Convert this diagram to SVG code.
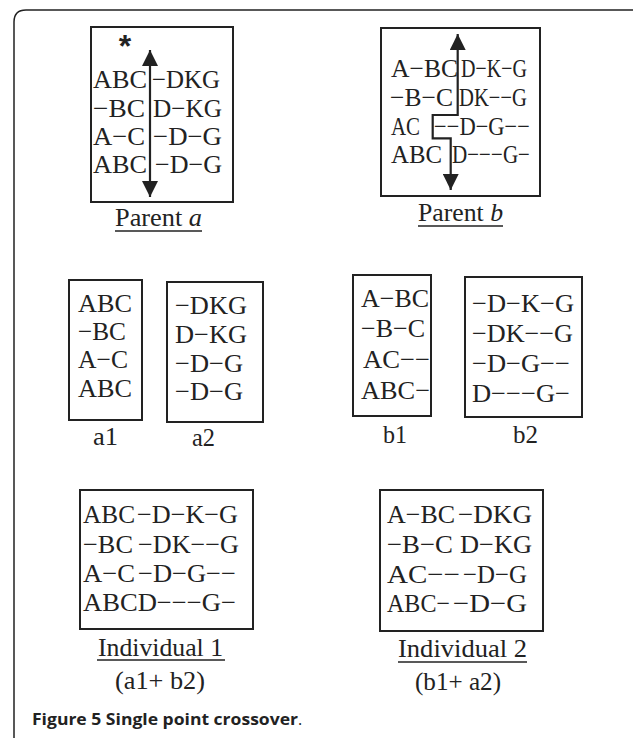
<svg xmlns="http://www.w3.org/2000/svg" width="633" height="738" viewBox="0 0 633 738">
<style>
.box{fill:none;stroke:#222;stroke-width:2}
.t{font-family:"Liberation Serif","Times New Roman",serif;font-size:26px;fill:#222}
.cap{font-family:"Open Sans","Noto Sans",sans-serif;font-size:16px;fill:#222}
.ul{stroke:#222;stroke-width:1.5}
.arr{fill:none;stroke:#222;stroke-width:2.2}
</style>
<defs>
<marker id="ah" markerUnits="userSpaceOnUse" markerWidth="16" markerHeight="16" refX="15" refY="7.5" orient="auto-start-reverse" viewBox="0 0 15 15">
<path d="M0,0 L15,7.5 L0,15 Z" fill="#222"/>
</marker>
</defs>
<rect width="633" height="738" fill="#fff"/>
<path d="M14,738 L14,22 Q14,10 26,10 L633,10" fill="none" stroke="#222" stroke-width="1.5"/>

<g id="parentA">
<rect class="box" x="91" y="27" width="142" height="175"/>
<text x="125" y="57" text-anchor="middle" style="font-family:'Liberation Sans',sans-serif;font-size:32px;font-weight:bold;fill:#222">*</text>
<text class="t" x="93" y="88" textLength="54" lengthAdjust="spacingAndGlyphs">ABC</text>
<text class="t" x="152" y="88" textLength="68" lengthAdjust="spacingAndGlyphs">−DKG</text>
<text class="t" x="93" y="117" textLength="52" lengthAdjust="spacingAndGlyphs">−BC</text>
<text class="t" x="153" y="117" textLength="69" lengthAdjust="spacingAndGlyphs">D−KG</text>
<text class="t" x="93" y="145" textLength="52" lengthAdjust="spacingAndGlyphs">A−C</text>
<text class="t" x="153" y="145" textLength="69" lengthAdjust="spacingAndGlyphs">−D−G</text>
<text class="t" x="93" y="173" textLength="54" lengthAdjust="spacingAndGlyphs">ABC</text>
<text class="t" x="155" y="173" textLength="67" lengthAdjust="spacingAndGlyphs">−D−G</text>
<text class="t" x="115" y="226" textLength="87" lengthAdjust="spacingAndGlyphs">Parent <tspan font-style="italic">a</tspan></text>
<line class="ul" x1="115" y1="231" x2="202" y2="231"/>
</g>

<g id="parentB">
<rect class="box" x="381" y="28" width="159" height="168"/>
<text class="t" x="391" y="77" textLength="67" lengthAdjust="spacingAndGlyphs">A−BC</text>
<text class="t" x="461" y="77" textLength="66" lengthAdjust="spacingAndGlyphs">D−K−G</text>
<text class="t" x="390" y="106" textLength="63" lengthAdjust="spacingAndGlyphs">−B−C</text>
<text class="t" x="459" y="106" textLength="68" lengthAdjust="spacingAndGlyphs">DK−−G</text>
<text class="t" x="391" y="135" textLength="29" lengthAdjust="spacingAndGlyphs">AC</text>
<text class="t" x="434" y="135" textLength="96" lengthAdjust="spacingAndGlyphs">−−D−G−−</text>
<text class="t" x="391" y="163" textLength="51" lengthAdjust="spacingAndGlyphs">ABC</text>
<text class="t" x="452" y="163" textLength="78" lengthAdjust="spacingAndGlyphs">D−−−G−</text>
<text class="t" x="418" y="221" textLength="85" lengthAdjust="spacingAndGlyphs">Parent <tspan font-style="italic">b</tspan></text>
<line class="ul" x1="418" y1="226" x2="503" y2="226"/>
</g>

<g id="a1">
<rect class="box" x="69" y="280" width="73" height="140"/>
<text class="t" x="78" y="312" textLength="54" lengthAdjust="spacingAndGlyphs">ABC</text>
<text class="t" x="78" y="340" textLength="48" lengthAdjust="spacingAndGlyphs">−BC</text>
<text class="t" x="78" y="368" textLength="50" lengthAdjust="spacingAndGlyphs">A−C</text>
<text class="t" x="78" y="397" textLength="54" lengthAdjust="spacingAndGlyphs">ABC</text>
<text class="t" x="93" y="445" textLength="25" lengthAdjust="spacingAndGlyphs">a1</text>
</g>

<g id="a2">
<rect class="box" x="167" y="282" width="96" height="140"/>
<text class="t" x="175" y="314" textLength="72" lengthAdjust="spacingAndGlyphs">−DKG</text>
<text class="t" x="175" y="343" textLength="72" lengthAdjust="spacingAndGlyphs">D−KG</text>
<text class="t" x="175" y="372" textLength="68" lengthAdjust="spacingAndGlyphs">−D−G</text>
<text class="t" x="175" y="400" textLength="68" lengthAdjust="spacingAndGlyphs">−D−G</text>
<text class="t" x="192" y="446" textLength="23" lengthAdjust="spacingAndGlyphs">a2</text>
</g>

<g id="b1">
<rect class="box" x="353" y="275" width="78" height="141"/>
<text class="t" x="361" y="307" textLength="68" lengthAdjust="spacingAndGlyphs">A−BC</text>
<text class="t" x="361" y="337" textLength="64" lengthAdjust="spacingAndGlyphs">−B−C</text>
<text class="t" x="363" y="368" textLength="67" lengthAdjust="spacingAndGlyphs">AC−−</text>
<text class="t" x="361" y="399" textLength="69" lengthAdjust="spacingAndGlyphs">ABC−</text>
<text class="t" x="383" y="443" textLength="24" lengthAdjust="spacingAndGlyphs">b1</text>
</g>

<g id="b2">
<rect class="box" x="465" y="277" width="117" height="140"/>
<text class="t" x="472" y="312" textLength="102" lengthAdjust="spacingAndGlyphs">−D−K−G</text>
<text class="t" x="472" y="342" textLength="101" lengthAdjust="spacingAndGlyphs">−DK−−G</text>
<text class="t" x="472" y="372" textLength="98" lengthAdjust="spacingAndGlyphs">−D−G−−</text>
<text class="t" x="472" y="402" textLength="98" lengthAdjust="spacingAndGlyphs">D−−−G−</text>
<text class="t" x="513" y="443" textLength="25" lengthAdjust="spacingAndGlyphs">b2</text>
</g>

<g id="individual1">
<rect class="box" x="80" y="490" width="173" height="139"/>
<text class="t" x="83" y="523" textLength="52" lengthAdjust="spacingAndGlyphs">ABC</text>
<text class="t" x="137" y="523" textLength="101" lengthAdjust="spacingAndGlyphs">−D−K−G</text>
<text class="t" x="83" y="553" textLength="50" lengthAdjust="spacingAndGlyphs">−BC</text>
<text class="t" x="138" y="553" textLength="101" lengthAdjust="spacingAndGlyphs">−DK−−G</text>
<text class="t" x="83" y="582" textLength="52" lengthAdjust="spacingAndGlyphs">A−C</text>
<text class="t" x="138" y="582" textLength="98" lengthAdjust="spacingAndGlyphs">−D−G−−</text>
<text class="t" x="83" y="611" textLength="153" lengthAdjust="spacingAndGlyphs">ABCD−−−G−</text>
<text class="t" x="98" y="656" textLength="125" lengthAdjust="spacingAndGlyphs">Individual 1</text>
<line class="ul" x1="97" y1="660" x2="225" y2="660"/>
<text class="t" x="115" y="689" textLength="90" lengthAdjust="spacingAndGlyphs">(a1+ b2)</text>
</g>

<g id="individual2">
<rect class="box" x="380" y="490" width="163" height="141"/>
<text class="t" x="387" y="523" textLength="68" lengthAdjust="spacingAndGlyphs">A−BC</text>
<text class="t" x="458" y="523" textLength="74" lengthAdjust="spacingAndGlyphs">−DKG</text>
<text class="t" x="387" y="553" textLength="66" lengthAdjust="spacingAndGlyphs">−B−C</text>
<text class="t" x="460" y="553" textLength="72" lengthAdjust="spacingAndGlyphs">D−KG</text>
<text class="t" x="387" y="583" textLength="73" lengthAdjust="spacingAndGlyphs">AC−−</text>
<text class="t" x="463" y="583" textLength="64" lengthAdjust="spacingAndGlyphs">−D−G</text>
<text class="t" x="387" y="612" textLength="63" lengthAdjust="spacingAndGlyphs">ABC−</text>
<text class="t" x="453" y="612" textLength="74" lengthAdjust="spacingAndGlyphs">−D−G</text>
<text class="t" x="398" y="657" textLength="129" lengthAdjust="spacingAndGlyphs">Individual 2</text>
<line class="ul" x1="398" y1="662" x2="527" y2="662"/>
<text class="t" x="415" y="690" textLength="86" lengthAdjust="spacingAndGlyphs">(b1+ a2)</text>
</g>

<g id="connectors">
<line class="arr" x1="150" y1="50" x2="150" y2="197" marker-start="url(#ah)" marker-end="url(#ah)"/>
<path class="arr" d="M457.7,34 V115 H432.7 V138.3 H450.7 V190" marker-start="url(#ah)" marker-end="url(#ah)"/>
</g>

<g id="caption">
<text class="cap" x="32" y="725"><tspan font-weight="bold" textLength="266" lengthAdjust="spacingAndGlyphs">Figure 5 Single point crossover</tspan>.</text>
</g>
</svg>
